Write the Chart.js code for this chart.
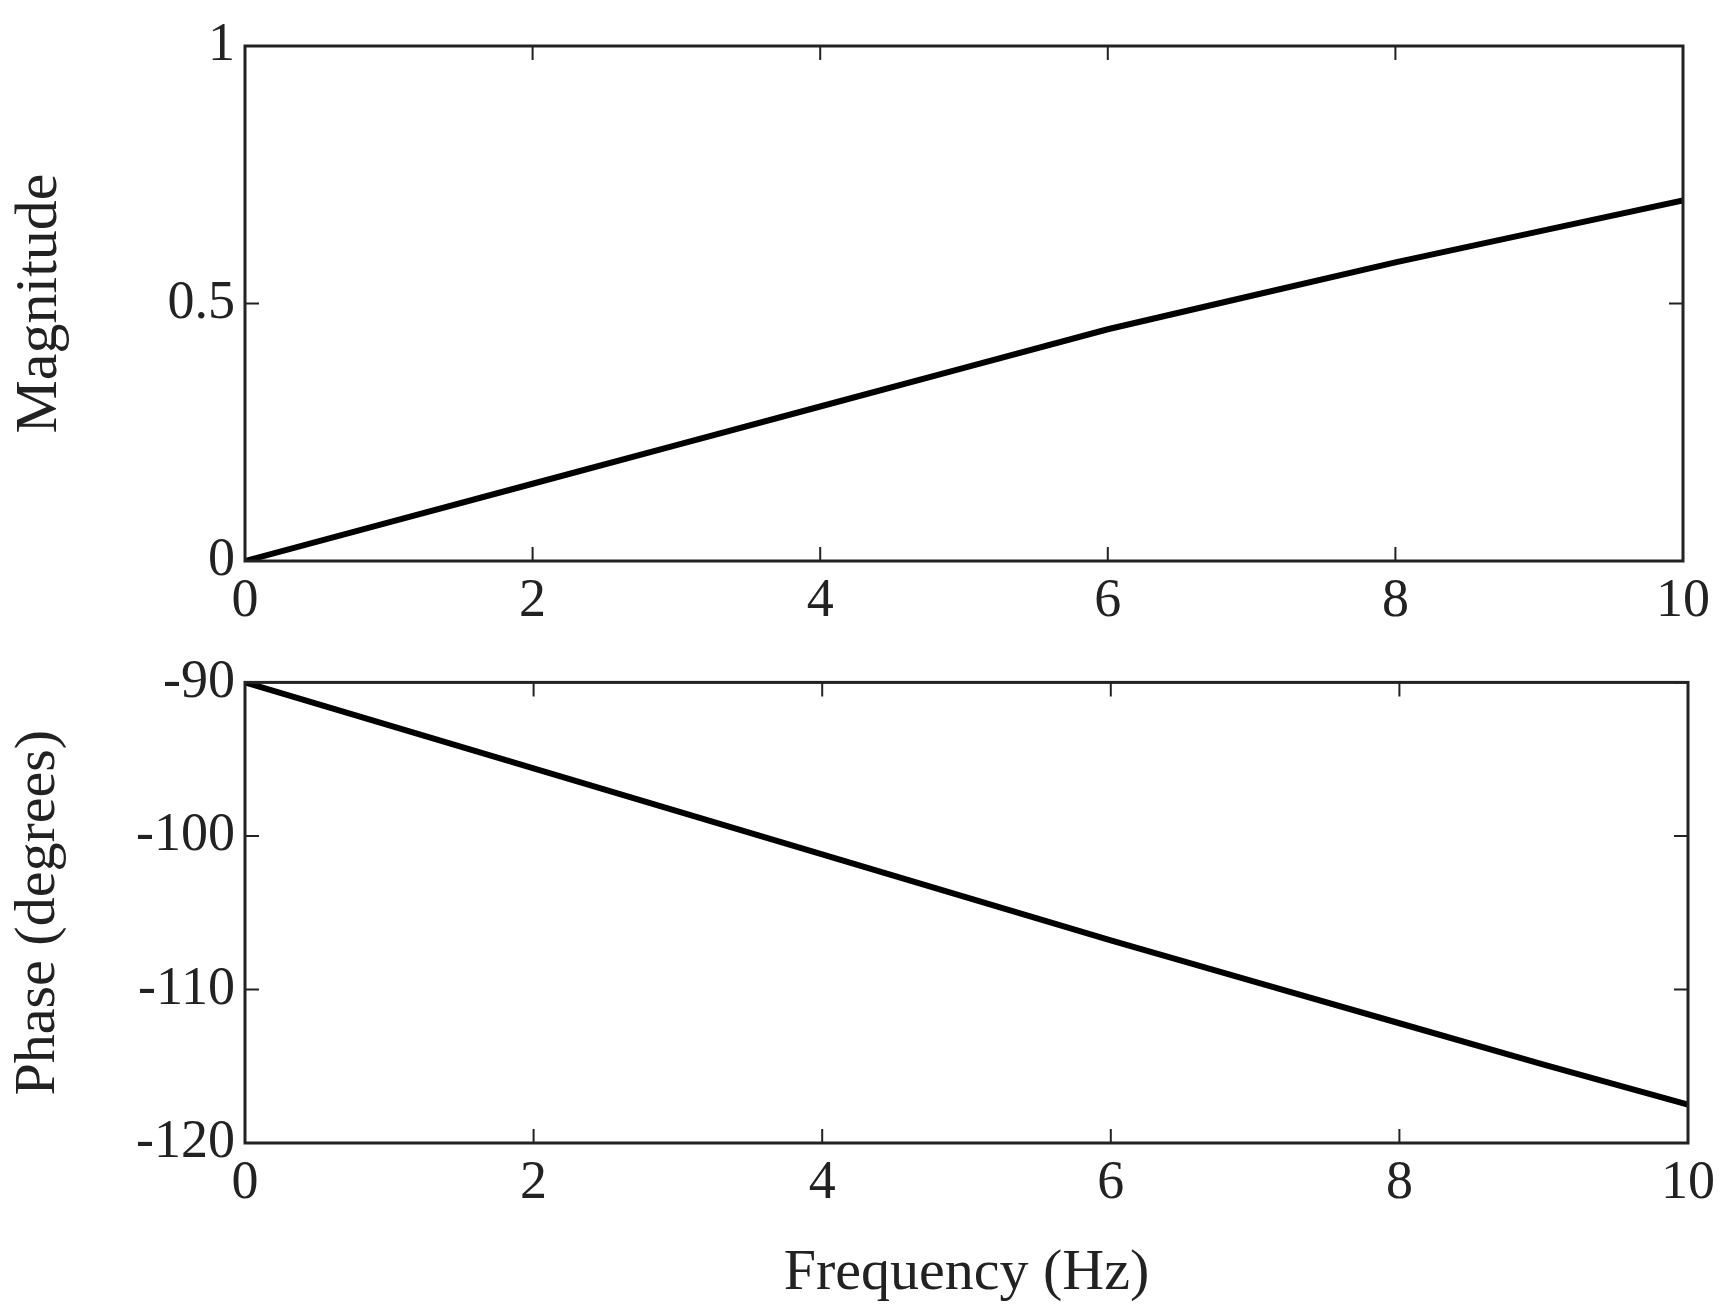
<!DOCTYPE html>
<html>
<head>
<meta charset="utf-8">
<script src="https://cdn.jsdelivr.net/npm/chart.js@4"></script>
<style>
  body { margin: 0; background: #fff; width: 1731px; height: 1313px; overflow: hidden; }
  .box { position: absolute; left: 0; width: 1731px; }
</style>
</head>
<body>
<div class="box" style="top:0;height:640px"><canvas id="magChart"></canvas></div>
<div class="box" style="top:640px;height:673px"><canvas id="phaseChart"></canvas></div>
<script>
// Data
const frequency = [0, 1, 2, 3, 4, 5, 6, 7, 8, 9, 10];
const magnitude = [0, 0.075, 0.15, 0.225, 0.3, 0.375, 0.45, 0.515, 0.58, 0.64, 0.7];
const phase = [-90, -92.8, -95.6, -98.4, -101.2, -104, -106.8, -109.5, -112.2, -114.9, -117.5];

const FONT = "'Liberation Serif', 'DejaVu Serif', serif";

// Matlab style inward ticks on all four sides
const innerTicks = {
  id: "innerTicks",
  afterDraw(chart) {
    const { ctx, chartArea: a, scales } = chart;
    const len = 14;
    ctx.save();
    ctx.strokeStyle = "#222";
    ctx.lineWidth = 2;
    ctx.beginPath();
    scales.x.ticks.forEach((t) => {
      const px = scales.x.getPixelForValue(t.value);
      ctx.moveTo(px, a.bottom); ctx.lineTo(px, a.bottom - len);
      ctx.moveTo(px, a.top); ctx.lineTo(px, a.top + len);
    });
    scales.y.ticks.forEach((t) => {
      const py = scales.y.getPixelForValue(t.value);
      ctx.moveTo(a.left, py); ctx.lineTo(a.left + len, py);
      ctx.moveTo(a.right, py); ctx.lineTo(a.right - len, py);
    });
    ctx.stroke();
    ctx.lineWidth = 3;
    ctx.strokeRect(a.left, a.top, a.right - a.left, a.bottom - a.top);
    ctx.restore();
  },
};

function makeChart(id, values, yOpts, padding, xHeight, xTitle) {
  return new Chart(document.getElementById(id), {
    type: "line",
    data: {
      labels: frequency,
      datasets: [{
        data: frequency.map((f, i) => ({ x: f, y: values[i] })),
        borderColor: "#000",
        borderWidth: 6,
        pointRadius: 0,
        tension: 0,
      }],
    },
    options: {
      responsive: true,
      maintainAspectRatio: false,
      animation: false,
      layout: { padding },
      plugins: { legend: { display: false }, tooltip: { enabled: false } },
      scales: {
        x: {
          type: "linear", min: 0, max: 10,
          grid: { display: false, drawTicks: false },
          border: { display: false },
          ticks: { stepSize: 2, color: "#222", padding: 8, font: { family: FONT, size: 54 } },
          title: { display: !!xTitle, text: xTitle || "", color: "#222", padding: { top: 0 }, font: { family: FONT, size: 58 } },
          afterFit: (s) => { s.height = xHeight; },
        },
        y: Object.assign({
          grid: { display: false, drawTicks: false },
          border: { display: false },
          afterFit: (s) => { s.width = 245; },
        }, yOpts),
      },
    },
    plugins: [innerTicks],
  });
}

makeChart("magChart", magnitude, {
  min: 0, max: 1,
  ticks: { stepSize: 0.5, color: "#222", padding: 10, font: { family: FONT, size: 54 },
    callback: (v) => String(v) },
  title: { display: true, text: "Magnitude", color: "#222", padding: { bottom: 0 }, font: { family: FONT, size: 60 } },
}, { top: 46, right: 48 }, 79, null);

makeChart("phaseChart", phase, {
  min: -120, max: -90,
  ticks: { stepSize: 10, color: "#222", padding: 10, font: { family: FONT, size: 54 } },
  title: { display: true, text: "Phase (degrees)", color: "#222", padding: { bottom: 0 }, font: { family: FONT, size: 58 } },
}, { top: 34, right: 43 }, 170, "Frequency (Hz)");
</script>
</body>
</html>
